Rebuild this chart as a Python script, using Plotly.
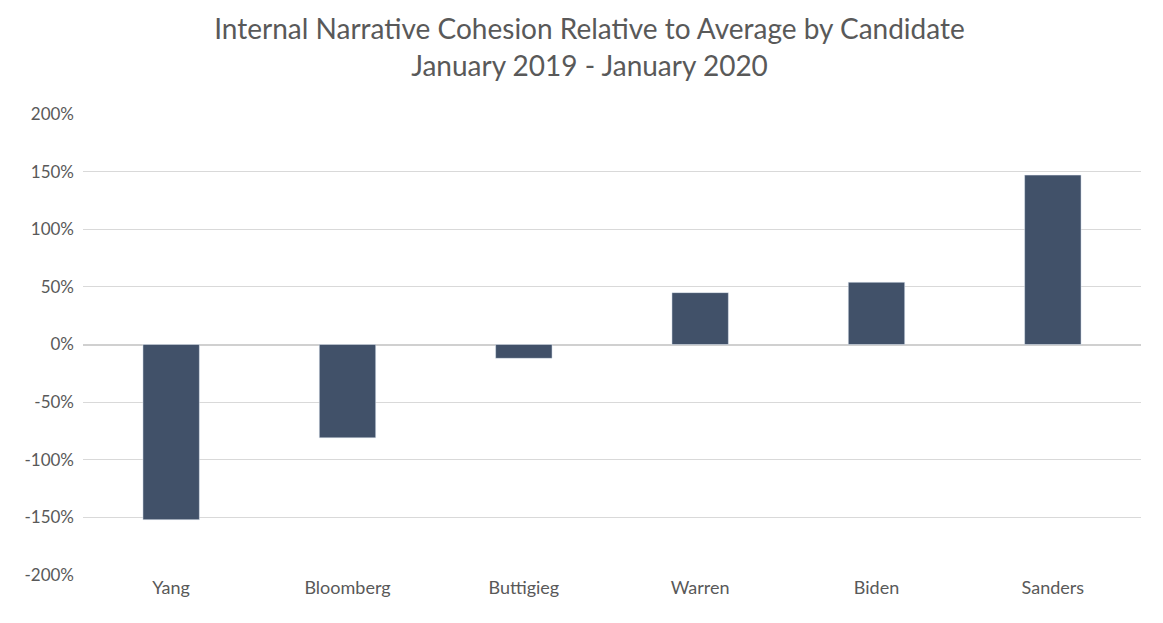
import plotly.graph_objects as go

candidates = ["Yang", "Bloomberg", "Buttigieg", "Warren", "Biden", "Sanders"]
cohesion = [-1.52, -0.81, -0.12, 0.45, 0.54, 1.47]
tick_vals = [-2, -1.5, -1, -0.5, 0, 0.5, 1, 1.5, 2]
tick_text = ["-200%", "-150%", "-100%", "-50%", "0%", "50%", "100%", "150%", "200%"]

fig = go.Figure()
fig.add_trace(go.Bar(x=candidates, y=cohesion, marker_color="#415169"))

fig.update_layout(
    title=dict(text="Internal Narrative Cohesion Relative to Average by Candidate<br>January 2019 - January 2020",
               x=0.5, xanchor="center", y=0.95, font=dict(size=28, color="#595959", family="Lato")),
    width=1163, height=623,
    paper_bgcolor="white", plot_bgcolor="white",
    margin=dict(l=75, r=30, t=106, b=56),
    bargap=0.68,
    showlegend=False,
    font=dict(family="Lato", size=18, color="#595959"),
)
fig.update_xaxes(showline=False, ticks="", tickfont=dict(size=18, color="#595959"))
fig.update_yaxes(range=[-2, 2], tickvals=tick_vals, ticktext=tick_text, showgrid=True,
                 gridcolor="#D9D9D9", gridwidth=1, zeroline=True, zerolinecolor="#D0D0D0",
                 ticklabelstandoff=8, tickfont=dict(size=17, color="#595959"))

fig.write_html("out.html")
